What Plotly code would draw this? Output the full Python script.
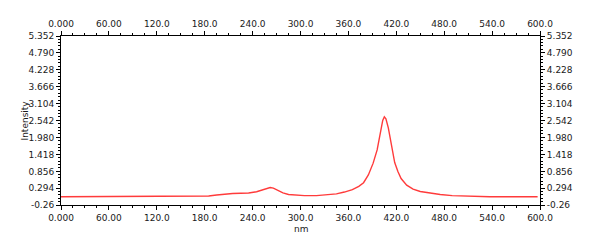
import plotly.graph_objects as go

# ---- data ----
wavelength_nm = [0, 20, 40, 60, 80, 100, 120, 140, 160, 175, 185, 195, 205, 215, 225, 235,
                 245, 252, 258, 262, 266, 272, 278, 285, 293, 305, 320, 335, 345, 355, 365,
                 373, 379, 385, 391, 396, 400, 403, 405, 407, 410, 414, 418, 422, 426, 433,
                 441, 450, 462, 475, 490, 510, 537, 560, 580, 597]
intensity = [0.016, 0.016, 0.016, 0.016, 0.016, 0.016, 0.016, 0.016, 0.018, 0.02, 0.04, 0.07,
             0.10, 0.12, 0.13, 0.14, 0.18, 0.23, 0.29, 0.32, 0.30, 0.22, 0.14, 0.09, 0.07,
             0.05, 0.05, 0.08, 0.11, 0.17, 0.25, 0.36, 0.48, 0.74, 1.13, 1.57, 2.15, 2.55,
             2.67, 2.60, 2.30, 1.68, 1.15, 0.85, 0.62, 0.40, 0.27, 0.19, 0.13, 0.09, 0.05,
             0.03, 0.016, 0.016, 0.016, 0.016]

x_tick_values = [0, 60, 120, 180, 240, 300, 360, 420, 480, 540, 600]
x_tick_labels = ["0.000", "60.00", "120.0", "180.0", "240.0", "300.0", "360.0",
                 "420.0", "480.0", "540.0", "600.0"]
y_tick_values = [-0.26, 0.294, 0.856, 1.418, 1.980, 2.542, 3.104, 3.666, 4.228, 4.790, 5.352]
y_tick_labels = ["-0.26", "0.294", "0.856", "1.418", "1.980", "2.542", "3.104",
                 "3.666", "4.228", "4.790", "5.352"]

x_range = [0, 600]
y_range = [-0.26, 5.352]

FONT = dict(family="DejaVu Sans, Verdana, sans-serif", size=9, color="#1a1a1a")

fig = go.Figure()
fig.add_trace(go.Scatter(x=wavelength_nm, y=intensity, mode="lines",
                         line=dict(color="#ff3b3b", width=1.4), hoverinfo="skip",
                         showlegend=False))
# invisible trace on the mirrored axes so they get drawn
fig.add_trace(go.Scatter(x=x_range, y=y_range, xaxis="x2", yaxis="y2", mode="markers",
                         marker=dict(opacity=0), hoverinfo="skip", showlegend=False))

common_x = dict(range=x_range, tickmode="array", tickvals=x_tick_values, ticktext=x_tick_labels,
                showline=True, linecolor="black", linewidth=1, ticks="outside", ticklen=4,
                tickcolor="black", tickwidth=1, showgrid=False, zeroline=False,
                tickfont=FONT,
                minor=dict(tickmode="linear", tick0=0, dtick=15, ticks="outside",
                           ticklen=2, tickcolor="black", showgrid=False))
common_y = dict(range=y_range, tickmode="array", tickvals=y_tick_values, ticktext=y_tick_labels,
                showline=True, linecolor="black", linewidth=1, ticks="outside", ticklen=4,
                tickcolor="black", tickwidth=1, showgrid=False, zeroline=False,
                tickfont=FONT,
                minor=dict(tickmode="linear", tick0=-0.26, dtick=0.1124, ticks="outside",
                           ticklen=2, tickcolor="black", showgrid=False))

PLOT_W, PLOT_H = 479, 169
fig.update_layout(
    width=602, height=242,
    margin=dict(l=61, r=62, t=36, b=37, pad=0),
    paper_bgcolor="white", plot_bgcolor="white",
    xaxis=dict(**common_x, side="bottom", anchor="y"),
    xaxis2=dict(**common_x, side="top", anchor="y", overlaying="x"),
    yaxis=dict(**common_y, side="left", anchor="x"),
    yaxis2=dict(**common_y, side="right", anchor="x", overlaying="y"),
    annotations=[
        dict(text="nm", xref="paper", yref="paper", x=0.5, y=-(229 - 205) / PLOT_H,
             xanchor="center", yanchor="middle", showarrow=False, font=FONT),
        dict(text="Intensity", xref="paper", yref="paper", x=(24 - 61) / PLOT_W, y=0.5,
             xanchor="center", yanchor="middle", textangle=-90, showarrow=False, font=FONT),
    ],
)

fig.write_html("out.html")
